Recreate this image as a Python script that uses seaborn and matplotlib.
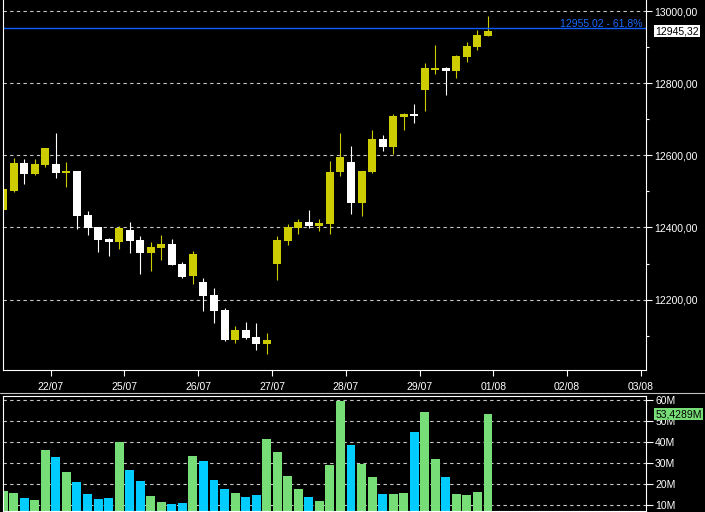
import numpy as np
import pandas as pd
import matplotlib.pyplot as plt
from matplotlib.lines import Line2D
import seaborn as sns

# Hourly candles (7 per session)
opens = [12448, 12501, 12579, 12548, 12573, 12576, 12551, 12556, 12434, 12401,
         12367, 12359, 12392, 12365, 12329, 12342, 12354, 12298, 12265, 12248,
         12212, 12170, 12087, 12115, 12095, 12076, 12298, 12362, 12398, 12415,
         12404, 12409, 12553, 12581, 12467, 12553, 12645, 12623, 12707, 12715,
         12781, 12837, 12843, 12834, 12873, 12901, 12931]
highs = [12513, 12592, 12590, 12590, 12620, 12662, 12581, 12556, 12445, 12401,
         12370, 12404, 12415, 12376, 12359, 12379, 12367, 12304, 12334, 12259,
         12231, 12176, 12126, 12137, 12134, 12106, 12376, 12409, 12423, 12448,
         12423, 12584, 12662, 12626, 12556, 12670, 12656, 12715, 12717, 12743,
         12857, 12907, 12845, 12879, 12915, 12948, 12987]
lows = [12443, 12498, 12520, 12545, 12567, 12537, 12512, 12395, 12378, 12331,
        12320, 12340, 12329, 12270, 12279, 12309, 12295, 12259, 12243, 12168,
        12134, 12084, 12079, 12090, 12059, 12048, 12254, 12351, 12381, 12398,
        12390, 12381, 12542, 12437, 12431, 12551, 12612, 12603, 12670, 12690,
        12723, 12826, 12768, 12815, 12859, 12892, 12931]
closes = [12506, 12579, 12548, 12576, 12620, 12551, 12556, 12431, 12398, 12365,
          12359, 12398, 12362, 12329, 12345, 12354, 12295, 12262, 12326, 12209,
          12168, 12087, 12115, 12093, 12076, 12087, 12365, 12401, 12415, 12404,
          12412, 12553, 12595, 12467, 12556, 12645, 12623, 12709, 12715, 12709,
          12843, 12843, 12834, 12876, 12904, 12934, 12945.32]
volumes = [16.7, 15.7, 13.3, 12.4, 36.2, 32.9, 25.7, 21.0, 15.2, 12.9,
           13.3, 40.0, 26.7, 21.4, 14.3, 11.4, 10.5, 11.0, 33.3, 31.0,
           21.9, 17.6, 15.7, 13.8, 14.8, 41.4, 35.2, 23.8, 17.6, 13.8,
           11.9, 29.0, 59.5, 38.6, 29.5, 23.3, 15.2, 15.2, 15.7, 44.8,
           54.3, 31.9, 23.3, 15.2, 14.8, 16.2, 53.4289]

date_labels = ['22/07', '25/07', '26/07', '27/07', '28/07', '29/07', '01/08', '02/08', '03/08']
price_ticks = [12200, 12400, 12600, 12800, 13000]
vol_ticks = [10, 20, 30, 40, 50, 60]
fibo_level = 12955.02
fibo_text = '12955.02 - 61,8%'

df = pd.DataFrame({'idx': np.arange(len(opens)), 'open': opens, 'high': highs,
                   'low': lows, 'close': closes, 'volume': volumes})
df['up'] = df['close'] >= df['open']

UP = '#cccc00'
DOWN = '#ffffff'
GRID = '#c8c8c8'

sns.set_style('ticks', rc={'axes.facecolor': 'black', 'figure.facecolor': 'black',
                           'axes.edgecolor': 'white', 'xtick.color': 'white',
                           'ytick.color': 'white', 'text.color': 'white'})
plt.rcParams['font.family'] = ['Liberation Sans', 'DejaVu Sans']
plt.rcParams['font.size'] = 7.5

fig = plt.figure(figsize=(7.05, 5.12), dpi=100, facecolor='black')
ax = fig.add_axes([3.2 / 705, (512 - 370.3) / 512, 642.9 / 705, 370.3 / 512])
axv = fig.add_axes([3.2 / 705, 1.5 / 512, 642.9 / 705, 114.2 / 512])

# candles
cols = np.where(df['up'], UP, DOWN)
ax.vlines(df['idx'], df['low'], df['high'], colors=cols, lw=0.8)
body_bot = df[['open', 'close']].min(axis=1)
body_h = (df['close'] - df['open']).abs().clip(lower=5)
ax.bar(df['idx'], body_h, bottom=body_bot, width=0.76, color=cols, linewidth=0)

ax.axhline(fibo_level, color='#0a5cff', lw=1.0)
ax.text(0.9947, fibo_level + 4, fibo_text, color='#1a6aff', ha='right', va='baseline',
        transform=ax.get_yaxis_transform())
ax.text(1.0139, closes[-1], f'{closes[-1]:.2f}'.replace('.', ','), color='black',
        ha='left', va='center', transform=ax.get_yaxis_transform(),
        bbox=dict(boxstyle='square,pad=0.1', fc='white', ec='none'))

ax.set_xlim(0, 61)
ax.set_ylim(12003.6, 13031.4)
ax.set_xticks([4.5 + 7 * k for k in range(len(date_labels))])
ax.set_xticklabels(date_labels)
ax.set_yticks(price_ticks)
ax.set_yticklabels([f'{t:.2f}'.replace('.', ',') for t in price_ticks])
ax.set_yticks(np.arange(12100, 13000, 200), minor=True)
ax.yaxis.tick_right()
ax.tick_params(axis='y', which='major', length=4.3, width=0.8, pad=1.5, colors='white')
ax.tick_params(axis='y', which='minor', length=2.2, width=0.8, colors='white')
ax.tick_params(axis='x', length=4.3, width=0.8, pad=4, colors='white')
ax.grid(axis='y', which='major', color=GRID, linestyle=(0, (3, 3)), lw=0.8)
ax.grid(axis='x', visible=False)
for s in ['left', 'bottom', 'right']:
    ax.spines[s].set_color('white')
    ax.spines[s].set_linewidth(0.8)
ax.spines['top'].set_visible(False)

# volume
sns.barplot(data=df, x='idx', y='volume', hue='up', palette={True: '#77dd77', False: '#00ccff'},
            native_scale=True, dodge=False, width=0.85, errorbar=None, saturation=1,
            linewidth=0, legend=False, ax=axv)
axv.set_xlim(0, 61)
axv.set_ylim(7.38, 61.9)
axv.set_xticks([])
axv.set_xlabel('')
axv.set_ylabel('')
axv.set_yticks(vol_ticks)
axv.set_yticklabels([f'{t}M' for t in vol_ticks])
axv.yaxis.tick_right()
axv.tick_params(axis='y', length=5, width=0.8, pad=1.5, colors='white')
axv.grid(axis='y', color=GRID, linestyle=(0, (3, 3)), lw=0.8)
axv.grid(axis='x', visible=False)
for s in axv.spines.values():
    s.set_visible(True)
    s.set_color('white')
    s.set_linewidth(0.8)
axv.text(1.0145, volumes[-1], f'{volumes[-1]:.4f}'.replace('.', ',') + 'M', color='black',
         ha='left', va='center', transform=axv.get_yaxis_transform(),
         bbox=dict(boxstyle='square,pad=0.1', fc='#77dd77', ec='none'))

fig.add_artist(Line2D([0, 1], [(512 - 392.5) / 512] * 2, transform=fig.transFigure,
                      color='#c0c0c0', lw=0.8))

fig.savefig('out.png', dpi=100, facecolor='black')
